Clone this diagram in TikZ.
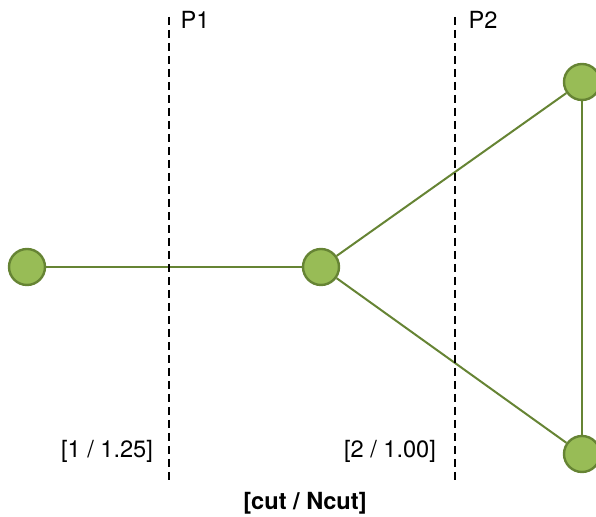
\documentclass[tikz,border=0pt]{standalone}
\usepackage{fontspec}
\setmainfont{TeX Gyre Heros}
\definecolor{vfill}{RGB}{152,188,86}
\definecolor{vline}{RGB}{102,132,52}
\begin{document}
\begin{tikzpicture}[x=0.5pt,y=-0.5pt,
  vertex/.style={circle,draw=vline,fill=vfill,line width=1.2pt,minimum size=18pt,inner sep=0pt},
  edge/.style={draw=vline,line width=1pt},
  cutline/.style={line width=1.1pt,dash pattern=on 4pt off 2.5pt},
  lbl/.style={font=\fontsize{11.8}{14}\selectfont}]
  \useasboundingbox (0,0) rectangle (596,517);

  % Graph edges
  \node[vertex] (a) at (27,267) {};
  \node[vertex] (b) at (321,267) {};
  \node[vertex] (c) at (582,82) {};
  \node[vertex] (d) at (582,454) {};
  \draw[edge] (a) -- (b);
  \draw[edge] (b) -- (c);
  \draw[edge] (b) -- (d);
  \draw[edge] (c) -- (d);

  % Partition lines
  \coordinate (p1top) at (169,17);
  \coordinate (p1bot) at (169,481);
  \coordinate (p2top) at (455,17);
  \coordinate (p2bot) at (455,481);
  \draw[cutline] (p1top) -- (p1bot);
  \draw[cutline] (p2top) -- (p2bot);

  % Labels
  \node[lbl] (l1) at (195,20) {P1};
  \node[lbl] (l2) at (483,20) {P2};
  \node[lbl] (v1) at (107,451) {[1 / 1.25]};
  \node[lbl] (v2) at (390,451) {[2 / 1.00]};
  \node[lbl,font=\fontsize{11.8}{14}\selectfont\bfseries] (key) at (305,503) {[cut / Ncut]};
\end{tikzpicture}
\end{document}
